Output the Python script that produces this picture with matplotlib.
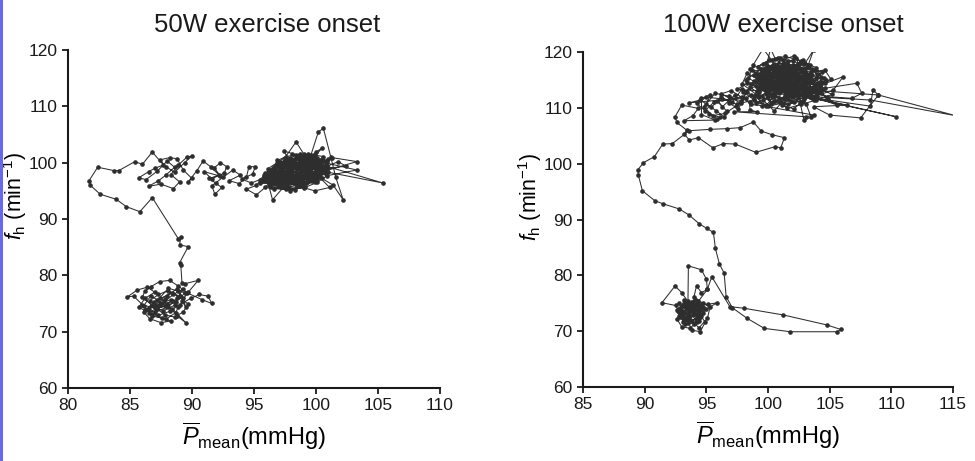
import numpy as np
import matplotlib
matplotlib.use('Agg')
import matplotlib.pyplot as plt
from matplotlib.lines import Line2D

plt.rcParams['font.family'] = ['Liberation Sans', 'DejaVu Sans']
plt.rcParams['mathtext.fontset'] = 'custom'
plt.rcParams['mathtext.rm'] = 'Liberation Sans'
plt.rcParams['mathtext.it'] = 'Liberation Sans:italic'
plt.rcParams['mathtext.bf'] = 'Liberation Sans:bold'

# ---- 50 W: (P mean mmHg, fh min-1) trajectory pieces ----
l_base_core = [(87.8, 75.8), (86.9, 74.6), (86.2, 73.9), (87.0, 73.5), (88.1, 74.4), (88.8, 75.9),
               (89.3, 77.6), (88.5, 76.6), (87.6, 75.0), (86.7, 76.4), (86.1, 74.6), (86.8, 72.8),
               (87.9, 72.2), (88.7, 73.4), (88.9, 74.4), (88.3, 75.7), (87.4, 74.9), (86.5, 74.1),
               (87.2, 75.6), (88.4, 76.9), (89.0, 76.3), (88.6, 74.7), (87.7, 73.7), (87.0, 74.3)]
l_base = [(88.5, 75.5), (87.2, 74.0), (86.0, 74.8), (85.3, 76.3), (84.8, 76.2), (85.6, 77.4),
          (86.4, 77.9), (87.0, 77.0), (86.2, 75.9), (85.7, 74.3), (86.8, 73.2), (87.6, 72.4),
          (88.3, 71.9), (87.5, 71.6), (86.6, 72.3), (86.1, 73.5), (86.9, 75.2), (88.0, 76.4),
          (88.8, 77.6), (89.4, 76.8), (88.7, 75.3), (87.9, 74.6), (87.1, 74.1), (86.5, 73.3),
          (87.3, 72.9), (88.2, 73.6), (89.0, 74.8), (89.9, 75.9), (90.6, 76.6), (91.3, 76.3),
          (91.6, 75.0), (90.8, 75.7), (89.6, 76.9), (88.9, 78.1), (88.2, 79.1), (87.4, 78.9),
          (86.7, 78.0), (86.2, 77.2), (86.0, 76.1), (86.9, 74.5), (87.8, 73.0), (88.6, 72.6),
          (89.3, 73.5), (89.7, 74.9), (88.9, 76.2), (88.1, 77.3), (87.3, 76.6), (86.6, 75.5),
          (87.2, 74.6), (88.4, 74.1), (89.5, 71.6), (88.8, 72.8), (88.0, 74.9), (87.4, 76.0),
          (88.1, 77.7), (88.9, 77.2), (89.3, 76.0), (89.5, 74.3), (89.2, 75.5), (89.7, 77.0),
          (90.5, 79.1), (89.4, 78.5)]
l_rise = [(89.2, 78.6), (89.1, 81.8), (89.0, 82.2), (89.7, 85.1), (89.0, 85.4), (89.1, 86.8),
          (88.9, 86.5), (86.8, 93.8), (85.8, 91.3), (84.7, 92.2), (83.9, 93.5), (82.6, 94.4),
          (81.8, 96.0), (81.7, 96.8), (82.4, 99.2), (83.7, 98.6), (84.1, 98.6), (85.4, 100.2),
          (86.0, 99.7), (86.8, 101.9), (87.7, 99.6)]
l_mid1 = [(87.0, 99.0), (86.5, 98.4), (85.7, 97.3), (86.3, 97.0), (87.2, 98.5), (88.0, 100.3),
          (88.6, 99.2), (87.9, 97.8), (87.3, 96.8), (86.5, 95.8), (87.5, 96.2), (88.5, 95.4),
          (89.0, 96.6), (88.3, 97.9), (88.9, 99.6), (89.6, 101.0), (90.0, 101.2), (89.4, 100.0),
          (88.6, 98.3), (87.9, 99.3), (87.4, 100.5), (88.2, 100.9), (88.8, 100.7), (89.3, 98.7),
          (90.0, 97.2), (89.7, 96.6), (90.4, 98.6), (90.9, 100.3), (91.5, 99.3), (92.2, 97.8),
          (91.6, 97.1), (91.0, 98.4)]
l_mid2 = [(92.3, 97.6), (91.8, 99.1), (92.3, 100.0), (92.8, 99.3), (92.6, 98.1), (91.4, 97.2),
          (91.9, 96.4), (92.4, 95.6), (91.85, 94.4), (91.6, 95.9), (92.5, 97.4), (93.3, 98.7),
          (93.9, 97.8), (93.0, 96.8), (93.8, 96.3), (94.4, 97.5), (94.6, 99.3), (95.1, 99.3),
          (94.9, 98.0), (94.0, 97.1), (94.8, 96.4), (95.5, 97.0), (95.9, 97.9), (95.2, 96.0),
          (94.4, 95.3), (95.2, 94.3), (95.9, 95.6), (96.3, 96.6)]
l_exer = [(97.2, 97.8), (96.0, 97.2), (97.5, 96.3), (98.4, 97.9), (96.8, 98.5), (95.6, 96.9),
          (97.0, 95.8), (98.9, 97.0), (99.6, 99.5), (97.8, 99.4), (96.4, 97.8), (97.3, 96.9),
          (99.1, 98.3), (100.1, 100.4), (98.6, 100.9), (97.1, 99.0), (96.2, 95.9), (96.5, 93.4),
          (97.4, 95.7), (98.2, 96.6), (99.5, 97.8), (100.3, 99.1), (99.0, 101.2), (97.6, 100.2),
          (96.6, 99.3), (95.9, 98.1), (97.9, 97.2), (99.3, 96.5), (100.4, 98.2), (99.8, 100.8),
          (98.1, 101.6), (97.4, 102.1), (98.0, 99.9), (98.8, 98.6), (97.7, 96.0), (96.6, 95.4),
          (98.3, 95.1), (99.7, 96.8), (100.8, 99.6), (101.3, 100.9), (103.3, 100.2), (100.7, 98.5),
          (99.2, 97.2), (97.0, 97.4), (96.1, 98.9), (97.5, 100.9), (98.4, 103.7), (99.0, 101.6),
          (99.9, 99.0), (98.7, 96.0), (97.9, 94.9), (97.3, 96.6), (98.6, 98.0), (100.0, 97.6),
          (101.0, 98.3), (105.4, 96.4), (100.2, 99.8), (99.3, 100.5), (97.4, 98.4), (96.5, 96.6),
          (95.8, 97.5), (96.9, 99.6), (98.3, 100.6), (99.6, 101.4), (100.2, 105.5), (100.6, 106.1),
          (101.2, 101.0), (101.6, 97.4), (102.2, 93.4), (101.4, 96.0), (100.5, 97.2), (99.0, 99.4),
          (97.6, 98.6), (96.7, 97.0), (97.8, 95.5), (99.1, 95.6), (100.1, 96.5), (100.9, 97.7),
          (103.3, 98.7), (100.5, 100.1), (99.5, 98.7), (98.0, 98.1), (96.4, 98.3), (97.3, 99.7),
          (98.8, 99.8), (100.0, 101.9), (100.5, 102.6), (99.4, 99.9), (98.2, 97.3), (96.8, 96.2),
          (95.5, 96.4), (96.3, 97.4), (97.8, 98.8), (99.2, 98.9), (100.3, 97.4), (101.1, 95.6),
          (99.9, 95.0), (98.5, 95.9), (97.2, 97.1), (98.0, 99.0), (99.4, 100.2), (98.7, 101.5),
          (97.6, 101.1), (96.9, 100.4), (97.6, 97.9), (98.9, 97.5), (99.9, 98.4), (101.8, 100.2),
          (102.4, 99.4), (100.7, 98.9), (99.2, 99.6), (98.5, 99.1)]
l_core = [(96.2, 97.0), (97.8, 97.6), (99.4, 98.6), (100.2, 99.8), (98.9, 99.9), (97.3, 98.9),
          (96.1, 97.9), (96.9, 96.4), (98.5, 96.9), (99.8, 97.9), (100.6, 99.1), (99.7, 100.6),
          (98.2, 100.3), (96.8, 99.2), (96.0, 96.7), (97.6, 96.1), (99.0, 96.4), (100.1, 97.1),
          (100.4, 98.6), (99.1, 99.3), (97.6, 99.8), (96.7, 98.2), (97.2, 96.9), (98.8, 97.6),
          (99.9, 99.6), (98.5, 101.0), (97.1, 100.1), (96.5, 98.8), (97.9, 98.1), (99.5, 97.2),
          (100.8, 98.0), (100.0, 100.2), (98.4, 99.5), (97.0, 97.8), (96.3, 96.2), (97.5, 95.6),
          (98.9, 96.1), (99.6, 97.4), (98.1, 98.5), (96.9, 98.0), (97.7, 99.3), (99.2, 100.4),
          (100.5, 100.7), (99.6, 99.0), (98.6, 97.8), (97.4, 97.3), (96.6, 97.6), (97.3, 98.6),
          (98.7, 99.3), (100.1, 99.5), (101.0, 99.0), (99.8, 98.1), (98.3, 97.0), (97.1, 96.1),
          (96.4, 97.3), (97.9, 99.0), (99.0, 100.7), (99.9, 101.3), (99.3, 100.0), (98.0, 98.9),
          (96.9, 97.5), (98.4, 96.3), (99.7, 96.9), (100.3, 98.1), (99.2, 98.0), (97.8, 97.4),
          (96.8, 96.8), (97.5, 98.2), (98.9, 98.8), (99.8, 100.0), (98.8, 100.3), (97.5, 99.5),
          (96.5, 97.2), (97.2, 95.9), (98.6, 96.6), (99.4, 97.9), (100.2, 98.9), (100.9, 100.1),
          (99.5, 100.9), (98.3, 99.8), (97.4, 98.0), (98.2, 97.2), (99.6, 98.2), (98.9, 99.4),
          (97.7, 98.4), (97.0, 97.0)]
l_core2 = [(95.7, 96.8), (96.6, 98.6), (97.5, 100.4), (98.4, 101.3), (99.4, 101.5), (100.6, 101.1),
           (100.9, 99.4), (100.2, 97.6), (99.0, 95.5), (97.6, 95.3), (96.4, 95.7), (95.8, 97.8),
           (96.9, 99.9), (97.9, 100.8), (99.1, 100.1), (100.4, 99.3), (99.9, 96.6), (98.6, 95.9),
           (97.1, 96.5), (96.3, 98.1), (97.6, 99.9), (98.9, 101.0), (100.1, 100.9), (100.7, 98.6),
           (99.3, 97.1), (97.9, 96.4), (96.6, 96.2), (96.0, 97.4), (97.3, 99.1), (98.7, 100.1),
           (100.3, 100.1), (101.0, 100.6), (99.7, 99.7), (98.4, 98.4), (97.2, 97.7), (96.2, 96.9)]

# ---- 100 W ----
r_base_core = [(93.2, 73.5), (94.1, 74.7), (93.5, 75.4), (92.8, 74.0), (93.6, 72.6), (94.5, 73.1),
               (94.0, 74.9), (93.1, 74.6), (92.9, 72.6), (93.8, 71.8), (94.6, 72.8), (94.2, 74.3),
               (93.3, 75.0), (92.6, 73.8), (93.4, 72.3), (94.4, 71.9), (94.8, 73.9), (93.7, 74.6),
               (93.0, 73.2), (93.9, 72.9), (94.3, 75.4), (93.6, 73.4), (92.8, 75.0), (93.5, 71.4),
               (94.2, 72.5), (93.8, 73.9), (93.1, 73.0), (94.0, 71.2), (94.7, 74.3), (93.4, 74.5),
               (93.9, 73.6), (93.2, 72.0)]
r_base = [(93.5, 73.0), (92.9, 74.2), (93.8, 75.3), (94.4, 74.0), (93.6, 72.1), (92.8, 72.8),
          (93.2, 74.9), (94.1, 75.6), (94.7, 73.3), (94.2, 71.6), (93.3, 71.2), (92.7, 73.6),
          (93.9, 74.6), (94.5, 72.6), (93.7, 70.5), (93.0, 70.8), (92.6, 72.2), (93.4, 73.9),
          (94.3, 75.1), (95.1, 74.8), (95.9, 75.1), (95.0, 74.0), (94.2, 73.0), (93.1, 72.4),
          (92.5, 74.6), (91.4, 75.1), (92.46, 78.1), (93.0, 76.9), (93.6, 75.0), (94.3, 73.6),
          (94.9, 71.6), (94.5, 69.9), (93.8, 70.2), (93.5, 71.9), (94.0, 73.2), (93.2, 75.6),
          (92.8, 73.4), (93.6, 73.8), (94.4, 72.3), (93.1, 71.6), (92.9, 73.0), (93.7, 74.4),
          (94.6, 74.6), (93.9, 73.5), (93.3, 74.3), (93.5, 74.1), (93.54, 81.7), (94.6, 81.0),
          (95.0, 79.3), (95.08, 77.5), (94.6, 76.9), (94.2, 78.1), (94.0, 76.2), (94.7, 75.0),
          (95.3, 74.3), (95.08, 72.3), (94.4, 70.6), (93.4, 72.8), (93.9, 74.0), (95.08, 77.5),
          (95.44, 79.75)]
r_rise = [(96.9, 74.4), (98.06, 74.1), (101.25, 72.9), (104.8, 71.1), (105.9, 70.3), (105.6, 69.9),
          (101.8, 69.9), (99.7, 70.5), (98.3, 72.3), (97.1, 74.2), (96.6, 76.2), (96.44, 80.4),
          (96.06, 82.0), (95.73, 84.83), (95.57, 87.7), (95.03, 88.4), (94.41, 89.25), (93.6, 90.8),
          (92.79, 91.9), (91.46, 92.83), (90.81, 93.37), (89.81, 95.16), (89.49, 97.9), (89.43, 98.86),
          (89.89, 100.17), (90.78, 101.25), (91.46, 103.5), (92.24, 103.6), (93.6, 105.9)]
r_lobe = [(95.3, 106.15), (96.65, 106.27), (97.73, 106.45), (98.81, 107.46), (99.44, 105.85),
          (100.3, 105.2), (101.33, 104.65), (101.03, 102.86), (100.57, 103.04), (99.0, 102.03),
          (97.33, 103.52), (96.38, 103.6), (95.52, 102.86), (94.35, 104.65), (93.62, 104.24),
          (93.2, 105.3), (93.4, 106.0), (92.6, 107.4), (92.46, 108.4), (93.0, 110.5), (94.35, 109.9),
          (93.9, 108.6), (93.2, 107.7), (95.7, 107.8), (94.6, 108.8)]
r_mid = [(94.6, 111.7), (95.3, 112.3), (95.0, 110.6), (95.8, 109.5), (96.4, 108.4), (96.65, 109.4),
         (95.9, 111.2), (96.3, 110.2), (97.3, 112.3), (96.8, 110.9), (97.6, 109.8), (98.27, 112.9),
         (97.8, 111.3), (96.9, 111.7), (96.2, 112.5), (97.0, 113.1), (98.5, 111.0), (98.54, 109.6),
         (99.08, 109.3), (97.2, 109.3), (103.1, 108.4), (103.7, 108.7), (99.5, 110.4), (98.6, 110.6),
         (97.9, 112.0), (95.6, 111.0), (94.9, 109.5), (95.9, 108.0), (96.1, 108.3), (95.2, 108.9),
         (94.2, 110.8), (95.0, 111.9), (96.3, 111.6), (97.5, 110.6), (98.2, 111.8)]
r_mid2 = [(93.6, 110.9), (94.5, 111.4), (95.4, 110.1), (96.2, 111.9), (97.1, 111.0), (97.9, 113.4),
          (98.6, 112.3), (97.4, 110.3), (96.5, 109.0), (95.5, 108.6), (94.8, 110.2), (95.7, 112.6),
          (96.8, 112.1), (97.8, 110.8), (98.9, 111.5), (99.4, 113.8), (98.3, 114.4), (97.5, 113.3)]
r_core = [(99.8, 113.0), (101.2, 114.8), (102.8, 116.4), (101.5, 117.6), (100.2, 116.1), (99.6, 114.3),
          (100.9, 112.6), (102.4, 113.3), (103.6, 114.8), (102.9, 117.0), (101.3, 118.1), (99.9, 117.4),
          (99.2, 115.8), (100.5, 114.1), (101.9, 112.1), (103.2, 112.8), (104.0, 114.4), (103.1, 115.9),
          (101.7, 115.3), (100.4, 113.3), (99.3, 112.0), (100.6, 111.3), (102.0, 111.9), (103.0, 113.9),
          (102.1, 115.7), (100.8, 116.7), (99.5, 116.8), (99.0, 114.6), (100.2, 113.9), (101.6, 114.0),
          (102.7, 115.1), (103.8, 116.7), (102.6, 118.0), (101.0, 117.0), (100.0, 115.0), (101.4, 113.2),
          (102.9, 112.2), (104.3, 113.6), (103.3, 114.9), (101.8, 116.0), (100.5, 117.8), (99.4, 117.0),
          (98.9, 115.9), (100.1, 114.7), (101.7, 113.9), (102.5, 112.7), (101.6, 111.6), (100.3, 112.2),
          (99.7, 113.5), (100.7, 115.2), (102.2, 116.3), (103.4, 117.6), (102.8, 118.6), (101.6, 116.7),
          (100.9, 115.0), (101.9, 113.1), (103.5, 113.4), (104.5, 115.3), (103.6, 115.8), (102.3, 114.3),
          (100.8, 113.7), (99.8, 112.4), (100.2, 110.9), (101.4, 111.9), (102.6, 113.9), (101.3, 115.6),
          (100.1, 116.4), (99.3, 114.9), (100.4, 114.8), (101.8, 115.0), (103.1, 116.2), (102.0, 117.1),
          (100.6, 116.3), (99.7, 115.6), (100.9, 114.2), (102.3, 113.6), (103.9, 112.6), (104.6, 114.4),
          (103.0, 114.2), (101.5, 112.8), (100.0, 113.6), (99.1, 113.1), (99.9, 115.7), (101.1, 117.6),
          (102.4, 117.6), (102.0, 115.9), (101.0, 114.0), (102.1, 112.5), (103.2, 115.1), (101.7, 114.5),
          (100.6, 113.0)]
r_core2 = [(98.6, 114.2), (99.9, 116.9), (101.2, 118.6), (102.1, 119.3), (102.9, 117.8), (101.7, 116.2),
           (100.3, 115.5), (99.0, 116.3), (98.2, 115.0), (99.3, 113.5), (100.6, 112.1), (101.9, 111.3),
           (103.4, 111.9), (104.3, 112.7), (103.7, 114.3), (102.6, 115.6), (101.1, 116.4), (99.8, 118.0),
           (100.8, 119.0), (102.0, 118.3), (103.2, 117.7), (104.0, 116.1), (104.7, 114.9), (103.8, 113.5),
           (102.4, 112.0), (101.0, 112.9), (99.6, 114.6), (98.3, 116.2), (97.9, 114.3), (99.1, 112.3),
           (100.4, 111.0), (101.6, 110.6), (102.8, 111.3), (103.9, 112.9), (103.1, 114.6), (101.9, 115.4),
           (100.4, 116.2), (99.2, 117.4), (100.1, 118.6), (101.4, 119.2), (102.7, 118.4), (103.9, 117.2),
           (104.3, 115.6), (103.3, 113.8), (102.0, 114.0), (100.7, 114.5), (99.4, 115.4), (98.5, 117.0),
           (99.6, 117.8), (100.9, 117.2), (102.2, 116.8), (103.5, 116.4), (104.6, 116.8), (105.1, 115.1),
           (104.1, 113.9), (102.8, 113.5), (101.4, 112.4), (100.1, 112.7), (99.0, 113.9), (98.0, 112.8),
           (98.9, 111.4), (100.0, 110.3), (101.3, 110.9), (102.5, 112.3), (103.7, 111.4), (104.9, 111.6),
           (104.2, 113.0), (102.9, 114.2), (101.5, 115.0), (100.2, 115.6), (98.9, 114.8), (99.7, 113.3),
           (101.0, 113.4), (102.2, 114.8), (103.4, 115.5), (102.7, 116.5), (101.4, 117.4), (100.0, 117.1),
           (99.3, 116.1), (100.6, 115.8), (101.9, 114.6), (103.0, 113.2), (104.4, 114.6), (103.6, 116.9),
           (102.4, 117.3), (101.2, 116.7), (100.4, 117.7), (101.5, 118.0)]
r_exer = [(99.3, 112.8), (100.5, 114.6), (101.8, 116.3), (100.2, 117.2), (99.1, 115.3), (100.7, 113.0),
          (102.3, 114.4), (103.4, 116.0), (102.0, 117.6), (100.6, 116.0), (99.6, 113.9), (98.4, 115.3),
          (98.8, 117.7), (99.6, 120.6), (100.3, 118.5), (101.2, 115.2), (102.6, 112.6), (103.8, 113.9),
          (102.9, 115.7), (101.4, 114.0), (100.0, 111.9), (99.0, 110.8), (100.2, 110.6), (101.5, 112.0),
          (102.7, 113.6), (101.9, 115.6), (100.8, 117.5), (101.0, 118.9), (101.65, 118.3), (102.3, 118.9),
          (102.6, 116.9), (103.5, 115.2), (104.2, 114.7), (103.3, 112.4), (102.1, 111.0), (100.9, 111.7),
          (100.1, 113.4), (99.4, 115.9), (98.7, 116.7), (99.8, 116.6), (101.1, 116.7), (102.2, 115.0),
          (103.0, 113.5), (104.4, 113.2), (105.2, 112.4), (103.9, 111.4), (102.7, 110.6), (101.5, 109.9),
          (101.0, 111.3), (101.8, 113.6), (100.9, 115.6), (99.9, 114.8), (99.2, 113.6), (100.4, 112.3),
          (101.6, 113.1), (103.7, 120.4), (103.2, 117.3), (102.4, 116.1), (101.3, 114.7), (100.3, 114.0),
          (99.5, 112.1), (98.5, 113.8), (99.7, 116.0), (100.2, 120.6), (100.6, 118.7), (101.5, 117.2),
          (102.5, 115.4), (104.2, 114.0), (106.1, 115.6), (105.3, 113.2), (104.0, 112.2), (102.2, 112.4),
          (100.8, 114.4), (100.0, 116.0), (101.2, 116.2), (102.8, 114.7), (103.6, 112.9), (102.9, 111.5),
          (102.1, 109.8), (101.1, 110.5), (100.4, 111.9), (99.8, 110.3), (98.9, 112.2), (99.4, 114.4),
          (100.7, 115.5), (101.9, 114.3), (102.8, 113.0), (104.1, 112.9), (105.6, 110.5), (103.7, 112.0),
          (102.4, 113.3), (101.4, 116.0), (100.4, 116.9), (100.9, 113.8), (102.0, 112.2), (103.1, 110.6),
          (103.5, 108.3), (102.9, 107.9), (102.6, 110.9), (101.7, 112.4), (101.0, 114.8), (102.2, 116.6),
          (103.3, 114.4), (104.6, 113.5), (107.2, 114.4), (107.6, 112.6), (106.8, 111.7), (104.8, 112.0),
          (103.2, 113.1), (101.9, 113.9), (100.6, 112.6), (99.6, 111.4), (100.5, 109.4), (101.3, 111.5),
          (102.5, 114.0), (103.9, 115.4), (104.4, 116.4), (103.0, 116.9), (101.9, 116.9), (100.9, 116.4),
          (100.2, 115.2), (101.5, 113.5), (108.95, 112.3), (115.2, 108.6), (108.3, 111.4), (102.8, 112.1),
          (110.4, 108.4), (103.6, 111.8), (108.3, 110.3), (108.5, 113.2), (108.95, 112.3), (107.5, 108.2),
          (105.0, 108.7), (103.7, 110.2), (106.4, 110.5), (103.0, 112.0), (101.8, 113.2)]

left_path = np.array(l_base_core + l_base + l_rise + l_mid1 + l_mid2 + l_exer + l_core + l_core2)
right_path = np.array(r_base_core + r_base + r_rise + r_lobe + r_mid + r_mid2 + r_core + r_core2 + r_exer)

panels = [
    ('50W exercise onset', left_path, (80, 110), [80, 85, 90, 95, 100, 105, 110]),
    ('100W exercise onset', right_path, (85, 115), [85, 90, 95, 100, 105, 110, 115]),
]
yticks = [60, 70, 80, 90, 100, 110, 120]

fig = plt.figure(figsize=(9.75, 4.61), dpi=100)
ax1 = fig.add_axes([0.0697, 0.1584, 0.3815, 0.733])
ax2 = fig.add_axes([0.598, 0.1605, 0.3795, 0.7267])
title_x = [0.274, 0.803]
ylab_x = [-0.104, -0.106]

ink = '#2e2e2e'
for ax, (title, path, xlim, xticks), tx, lx in zip([ax1, ax2], panels, title_x, ylab_x):
    ax.plot(path[:, 0], path[:, 1], color=ink, lw=0.75, marker='o', ms=2.3,
            mec=ink, mfc=ink, solid_joinstyle='round')
    ax.set_xlim(*xlim)
    ax.set_ylim(60, 120)
    ax.set_xticks(xticks)
    ax.set_yticks(yticks)
    for s in ['top', 'right']:
        ax.spines[s].set_visible(False)
    for s in ['left', 'bottom']:
        ax.spines[s].set_linewidth(1.5)
        ax.spines[s].set_color('#1a1a1a')
    ax.tick_params(direction='out', length=4, width=1.3, labelsize=12.5, colors='#1a1a1a', pad=3.5)
    ax.set_xlabel(r'$\overline{P}_{\mathrm{mean}}$(mmHg)', fontsize=17, labelpad=5)
    ax.set_ylabel(r'$f_{\mathrm{h}}$ (min$^{\mathrm{-1}}$)', fontsize=15.5)
    ax.yaxis.set_label_coords(lx, 0.568)
    fig.text(tx, 0.931, title, ha='center', va='baseline', fontsize=18.5, color='#1a1a1a')

# thin blue page edge on the left
fig.add_artist(Line2D([0.0015, 0.0015], [0, 1], transform=fig.transFigure, color='#6a6ad8', lw=2.2))

fig.savefig('out.png', dpi=100)
